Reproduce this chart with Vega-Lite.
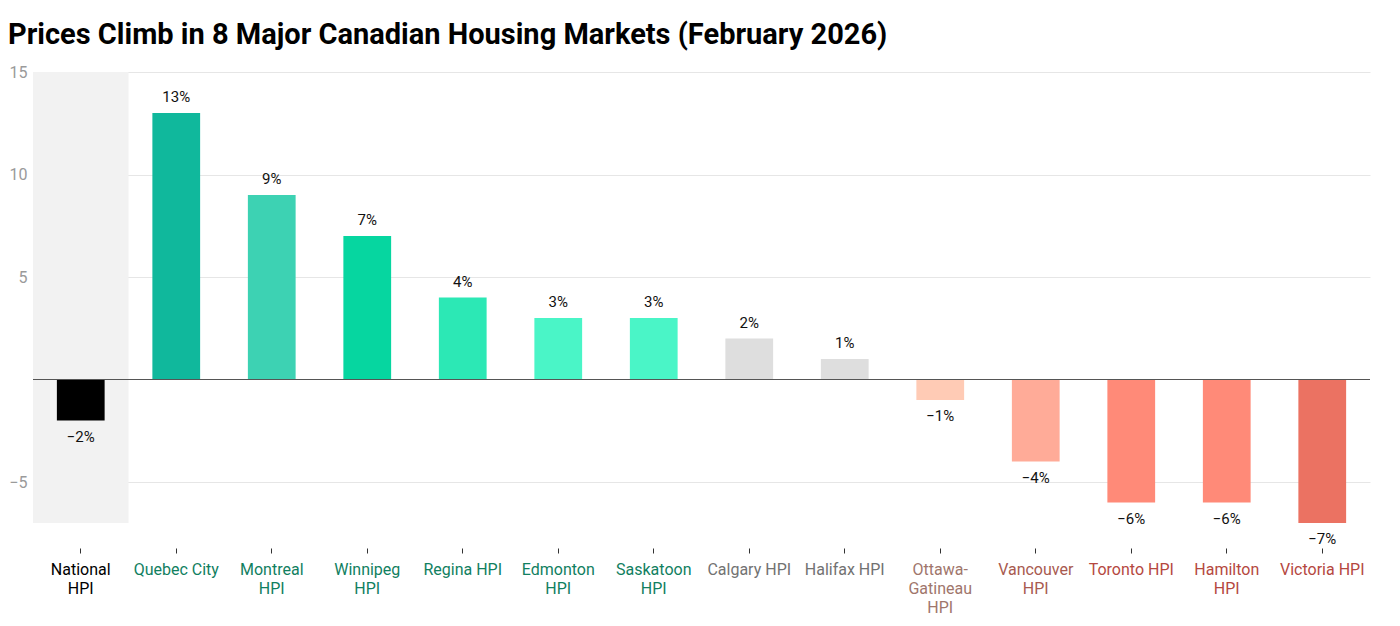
{
  "$schema": "https://vega.github.io/schema/vega-lite/v6.json",
  "autosize": {"type": "none"},
  "width": 1337,
  "height": 451,
  "padding": {"left": 33, "top": 72, "right": 30, "bottom": 103},
  "background": "#ffffff",
  "config": {
    "font": "Roboto",
    "view": {"stroke": null}
  },
  "title": {
    "text": "Prices Climb in 8 Major Canadian Housing Markets (February 2026)",
    "anchor": "start",
    "frame": "group",
    "dx": -25,
    "offset": -9,
    "baseline": "alphabetic",
    "font": "Roboto",
    "fontSize": 29,
    "fontWeight": "bold",
    "color": "#000000"
  },
  "data": {
    "values": [
      {"market": "National HPI", "change": -2},
      {"market": "Quebec City", "change": 13},
      {"market": "Montreal HPI", "change": 9},
      {"market": "Winnipeg HPI", "change": 7},
      {"market": "Regina HPI", "change": 4},
      {"market": "Edmonton HPI", "change": 3},
      {"market": "Saskatoon HPI", "change": 3},
      {"market": "Calgary HPI", "change": 2},
      {"market": "Halifax HPI", "change": 1},
      {"market": "Ottawa-Gatineau HPI", "change": -1},
      {"market": "Vancouver HPI", "change": -4},
      {"market": "Toronto HPI", "change": -6},
      {"market": "Hamilton HPI", "change": -6},
      {"market": "Victoria HPI", "change": -7}
    ]
  },
  "transform": [
    {"calculate": "format(datum.change, 'd') + '%'", "as": "label"}
  ],
  "encoding": {
    "x": {
      "field": "market",
      "type": "nominal",
      "sort": null,
      "scale": {"paddingInner": 0.5, "paddingOuter": 0.25},
      "axis": {
        "title": null,
        "domain": false,
        "offset": 25,
        "ticks": true,
        "tickSize": 5,
        "tickColor": "#333333",
        "tickWidth": 1,
        "labelAngle": 0,
        "labelPadding": 8,
        "labelFontSize": 16,
        "labelLineHeight": 19,
        "labelFont": "Roboto",
        "labelBaseline": "top",
        "labelExpr": "indexof(['National HPI','Montreal HPI','Winnipeg HPI','Edmonton HPI','Saskatoon HPI','Ottawa-Gatineau HPI','Vancouver HPI','Hamilton HPI'], datum.value) >= 0 ? split(replace(datum.value, '-', '- '), ' ') : datum.value",
        "labelColor": {"expr": "datum.value == 'National HPI' ? '#000000' : indexof(['Quebec City','Montreal HPI','Winnipeg HPI','Regina HPI','Edmonton HPI','Saskatoon HPI'], datum.value) >= 0 ? '#11805f' : indexof(['Calgary HPI','Halifax HPI'], datum.value) >= 0 ? '#727272' : datum.value == 'Ottawa-Gatineau HPI' ? '#a0766c' : datum.value == 'Vancouver HPI' ? '#a85a4f' : '#b5483f'"}
      }
    }
  },
  "layer": [
    {
      "transform": [{"filter": "datum.market == 'National HPI'"}],
      "mark": {"type": "bar", "color": "#f2f2f2", "width": {"band": 2}},
      "encoding": {
        "y": {"datum": 15, "type": "quantitative"},
        "y2": {"datum": -7}
      }
    },
    {
      "mark": {"type": "bar"},
      "encoding": {
        "y": {
          "field": "change",
          "type": "quantitative",
          "scale": {"domain": [-7, 15], "nice": false},
          "axis": {
            "title": null,
            "values": [-5, 5, 10, 15],
            "domain": false,
            "ticks": false,
            "labelColor": "#9a9a9a",
            "labelFontSize": 16,
            "labelPadding": 6,
            "labelFont": "Roboto",
            "grid": true,
            "gridColor": "#e6e6e6",
            "gridWidth": 1
          }
        },
        "color": {
          "field": "market",
          "type": "nominal",
          "legend": null,
          "scale": {
            "domain": ["National HPI", "Quebec City", "Montreal HPI", "Winnipeg HPI", "Regina HPI", "Edmonton HPI", "Saskatoon HPI", "Calgary HPI", "Halifax HPI", "Ottawa-Gatineau HPI", "Vancouver HPI", "Toronto HPI", "Hamilton HPI", "Victoria HPI"],
            "range": ["#000000", "#10b89c", "#3dd2b3", "#06d6a0", "#2ce8b5", "#4af5c7", "#4af5c7", "#dedede", "#dedede", "#ffcbb5", "#ffab98", "#ff8a78", "#ff8a78", "#eb7262"]
          }
        }
      }
    },
    {
      "mark": {"type": "rule", "color": "#555555", "strokeWidth": 1},
      "encoding": {
        "y": {"datum": 0, "type": "quantitative"},
        "x": {"value": 0},
        "x2": {"value": 1337}
      }
    },
    {
      "transform": [{"filter": "datum.change >= 0"}],
      "mark": {"type": "text", "baseline": "bottom", "dy": -8, "fontSize": 15, "color": "#111111", "font": "Roboto"},
      "encoding": {
        "y": {"field": "change", "type": "quantitative"},
        "text": {"field": "label"}
      }
    },
    {
      "transform": [{"filter": "datum.change < 0"}],
      "mark": {"type": "text", "baseline": "top", "dy": 9, "fontSize": 15, "color": "#111111", "font": "Roboto"},
      "encoding": {
        "y": {"field": "change", "type": "quantitative"},
        "text": {"field": "label"}
      }
    }
  ]
}
